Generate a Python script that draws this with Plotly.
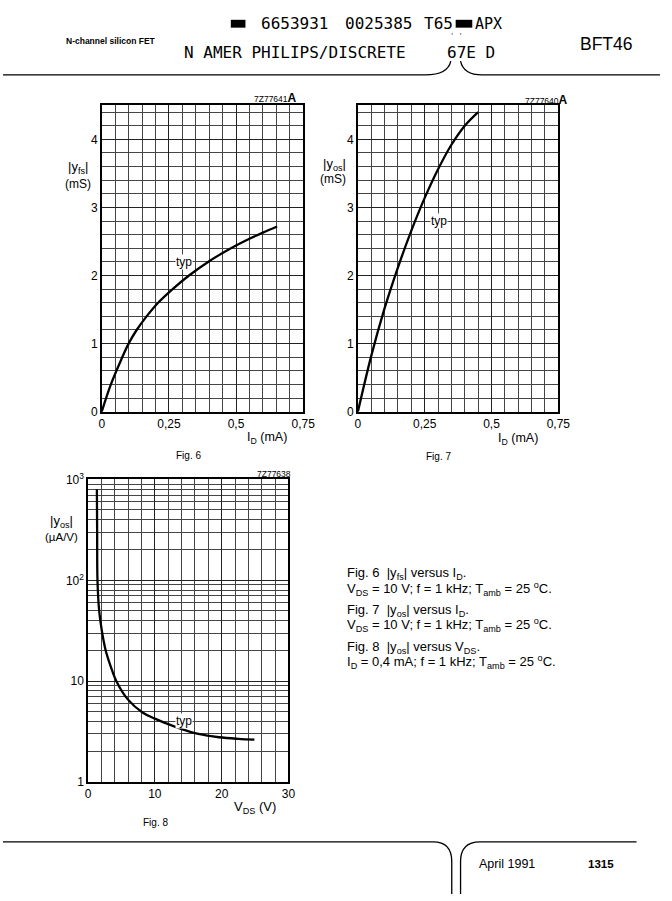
import plotly.graph_objects as go

W, H = 672, 901

# Fig. 6  |yfs| versus ID
fig6_id = [0, 0.033, 0.072, 0.10, 0.13, 0.167, 0.21, 0.264, 0.325, 0.40, 0.45, 0.50, 0.55, 0.60, 0.653]
fig6_yfs = [0, 0.39, 0.76, 1.0, 1.2, 1.4, 1.6, 1.8, 2.0, 2.21, 2.33, 2.44, 2.54, 2.63, 2.72]

# Fig. 7  |yos| versus ID
fig7_id = [0, 0.05, 0.10, 0.15, 0.20, 0.25, 0.30, 0.35, 0.40, 0.45]
fig7_yos = [0, 0.82, 1.52, 2.12, 2.66, 3.14, 3.56, 3.92, 4.20, 4.40]

# Fig. 8  |yos| versus VDS (log)
fig8_vds = [1.32, 1.36, 1.41, 1.66, 2.05, 2.63, 3.41, 4.24, 5.95, 8.15, 10.0, 12.0, 14.0, 16.5, 19.6, 22.5, 24.9]
fig8_yos = [800, 300, 100, 50, 32, 20.3, 13.9, 10, 6.6, 4.9, 4.25, 3.75, 3.35, 3.0, 2.78, 2.68, 2.63]

id_ticks = [0, 0.25, 0.5, 0.75]
id_ticktext = ["0", "0,25", "0,5", "0,75"]
ms_ticks = [0, 1, 2, 3, 4]
vds_ticks = [0, 10, 20, 30]
log_ticks = [1, 10, 100, 1000]
log_ticktext = ["1", "10", "10<sup>2</sup>", "10<sup>3</sup>"]
log_minor = [m * d for d in (1, 10, 100) for m in range(2, 10)]

SANS = "Liberation Sans, Arial, sans-serif"
MONO = "DejaVu Sans Mono, Liberation Mono, monospace"


def px(x):
    return x / W


def py(y):
    return 1 - y / H


def pt(x, y):
    return f"{px(x):.5f},{py(y):.5f}"


fig = go.Figure()

curve = dict(color="black", width=2.3, shape="spline")
fig.add_trace(go.Scatter(x=fig6_id, y=fig6_yfs, mode="lines", line=curve, xaxis="x", yaxis="y"))
fig.add_trace(go.Scatter(x=fig7_id, y=fig7_yos, mode="lines", line=curve, xaxis="x2", yaxis="y2"))
fig.add_trace(go.Scatter(x=fig8_vds, y=fig8_yos, mode="lines", line=curve, xaxis="x3", yaxis="y3"))

frame = dict(showline=True, mirror=True, linecolor="black", linewidth=1.5, ticks="",
             zeroline=False, showgrid=True, gridcolor="#222", gridwidth=1,
             tickfont=dict(family=SANS, size=12, color="black"), fixedrange=True)


def lin_x(domain, anchor):
    return dict(frame, domain=domain, range=[0, 0.75], tickvals=id_ticks, ticktext=id_ticktext, anchor=anchor,
                minor=dict(dtick=0.05, showgrid=True, gridcolor="#444", gridwidth=1))


def lin_y(domain, anchor):
    return dict(frame, domain=domain, range=[0, 4.5], tickvals=ms_ticks, anchor=anchor,
                minor=dict(dtick=0.2, showgrid=True, gridcolor="#444", gridwidth=1))


fig.update_layout(
    width=W, height=H, margin=dict(l=0, r=0, t=0, b=0),
    paper_bgcolor="white", plot_bgcolor="white", showlegend=False,
    font=dict(family=SANS, color="black"),
    xaxis=lin_x([px(101), px(307)], "y"),
    yaxis=lin_y([py(410), py(98)], "x"),
    xaxis2=lin_x([px(363), px(568)], "y2"),
    yaxis2=lin_y([py(410), py(98)], "x2"),
    xaxis3=dict(frame, domain=[px(87), px(292)], range=[0, 30], tickvals=vds_ticks, anchor="y3",
                minor=dict(dtick=2, showgrid=True, gridcolor="#444", gridwidth=1)),
    yaxis3=dict(frame, domain=[py(787), py(479)], type="log", range=[0, 3], tickvals=log_ticks,
                ticktext=log_ticktext, anchor="x3",
                minor=dict(tickvals=log_minor, showgrid=True, gridcolor="#444", gridwidth=1)),
)

ann = []


def text(x, y, s, size=10, family=SANS, xanchor="center", **kw):
    ann.append(dict(x=px(x), y=py(y), xref="paper", yref="paper", text=s, showarrow=False,
                    xanchor=xanchor, yanchor="middle", font=dict(family=family, size=size, color="black"), **kw))


# header
text(298, 15, "6653931", 16, MONO)
text(384, 15, "0025385", 16, MONO)
text(445, 15, "T65", 16, MONO)
text(481, 15, "APX", 15, MONO, xanchor="left")
text(464, 27, "' '", 7, MONO)
text(62, 33, "<b>N-channel silicon FET</b>", 8.5, xanchor="left")
text(183, 44, "N AMER PHILIPS/DISCRETE", 16, MONO, xanchor="left")
text(452, 44, "67E D", 16, MONO, xanchor="left")
text(588, 36, "BFT46", 17.5, xanchor="left")

# fig 6
text(303, 91, "7Z77641<span style='font-size:12px'><b>A</b></span>", 8.5, xanchor="right")
text(77, 161, "|y<sub>fs</sub>|", 13)
text(77, 178, "(mS)", 12)
text(270, 437, "I<sub>D</sub> (mA)", 12.5)
text(190, 455, "Fig. 6", 10)

# fig 7
text(580, 93, "7Z77640<span style='font-size:12px'><b>A</b></span>", 8.5, xanchor="right")
text(339, 158, "|y<sub>os</sub>|", 13)
text(338, 173, "(mS)", 12)
text(527, 438, "I<sub>D</sub> (mA)", 12.5)
text(445, 456, "Fig. 7", 10)

# fig 8
text(297, 473, "7Z77638", 8.5, xanchor="right")
text(60, 522, "|y<sub>os</sub>|", 13)
text(60, 538, "(\u00b5A/V)", 11.5)
text(258, 813, "V<sub>DS</sub> (V)", 13)
text(156, 828, "Fig. 8", 10)

# typ labels on the curves
for xr, yr, xv, yv in (("x", "y", 0.305, 2.2), ("x2", "y2", 0.304, 2.8), ("x3", "y3", 14.4, 0.602)):
    ann.append(dict(x=xv, y=yv, xref=xr, yref=yr, text="typ", showarrow=False, bgcolor="white",
                    borderpad=0, font=dict(family=SANS, size=12, color="black")))

# caption block
cap = [
    (575, "Fig. 6  |y<sub>fs</sub>| versus I<sub>D</sub>."),
    (590, "V<sub>DS</sub> = 10 V; f = 1 kHz; T<sub>amb</sub> = 25 <sup>o</sup>C."),
    (612, "Fig. 7  |y<sub>os</sub>| versus I<sub>D</sub>."),
    (627, "V<sub>DS</sub> = 10 V; f = 1 kHz; T<sub>amb</sub> = 25 <sup>o</sup>C."),
    (650, "Fig. 8  |y<sub>os</sub>| versus V<sub>DS</sub>."),
    (665, "I<sub>D</sub> = 0,4 mA; f = 1 kHz; T<sub>amb</sub> = 25 <sup>o</sup>C."),
]
for yy, s in cap:
    text(350, yy, s, 13, xanchor="left")

# footer
text(485, 870, "April 1991", 12.5, xanchor="left")
text(596, 870, "<b>1315</b>", 11.5, xanchor="left")

fig.update_layout(annotations=ann)

line = dict(color="black", width=1.3)
shapes = [
    dict(type="rect", xref="paper", yref="paper", x0=px(233), x1=px(248), y0=py(19), y1=py(11),
         fillcolor="black", line=dict(width=0)),
    dict(type="rect", xref="paper", yref="paper", x0=px(463), x1=px(480), y0=py(19), y1=py(11),
         fillcolor="black", line=dict(width=0)),
    dict(type="path", xref="paper", yref="paper", line=line,
         path=f"M {pt(0, 67)} L {pt(432, 67)} Q {pt(455, 67)} {pt(458, 53)}"),
    dict(type="path", xref="paper", yref="paper", line=line,
         path=f"M {pt(468, 53)} Q {pt(471, 67)} {pt(490, 67)} L {pt(672, 67)}"),
    dict(type="path", xref="paper", yref="paper", line=line,
         path=f"M {pt(0, 848)} L {pt(440, 848)} Q {pt(459, 848)} {pt(459, 868)} L {pt(459, 901)}"),
    dict(type="path", xref="paper", yref="paper", line=line,
         path=f"M {pt(468, 901)} L {pt(468, 868)} Q {pt(468, 848)} {pt(488, 848)} L {pt(648, 848)}"),
]
fig.update_layout(shapes=shapes)

# page body has a default 8px margin; drop it (and any scrollbars) so the figure sits at the window origin
page_js = ("document.body.style.margin='0';"
           "document.body.style.overflow='hidden';"
           "document.documentElement.style.overflow='hidden';")
fig.write_html("out.html", config={"displayModeBar": False}, post_script=page_js)
